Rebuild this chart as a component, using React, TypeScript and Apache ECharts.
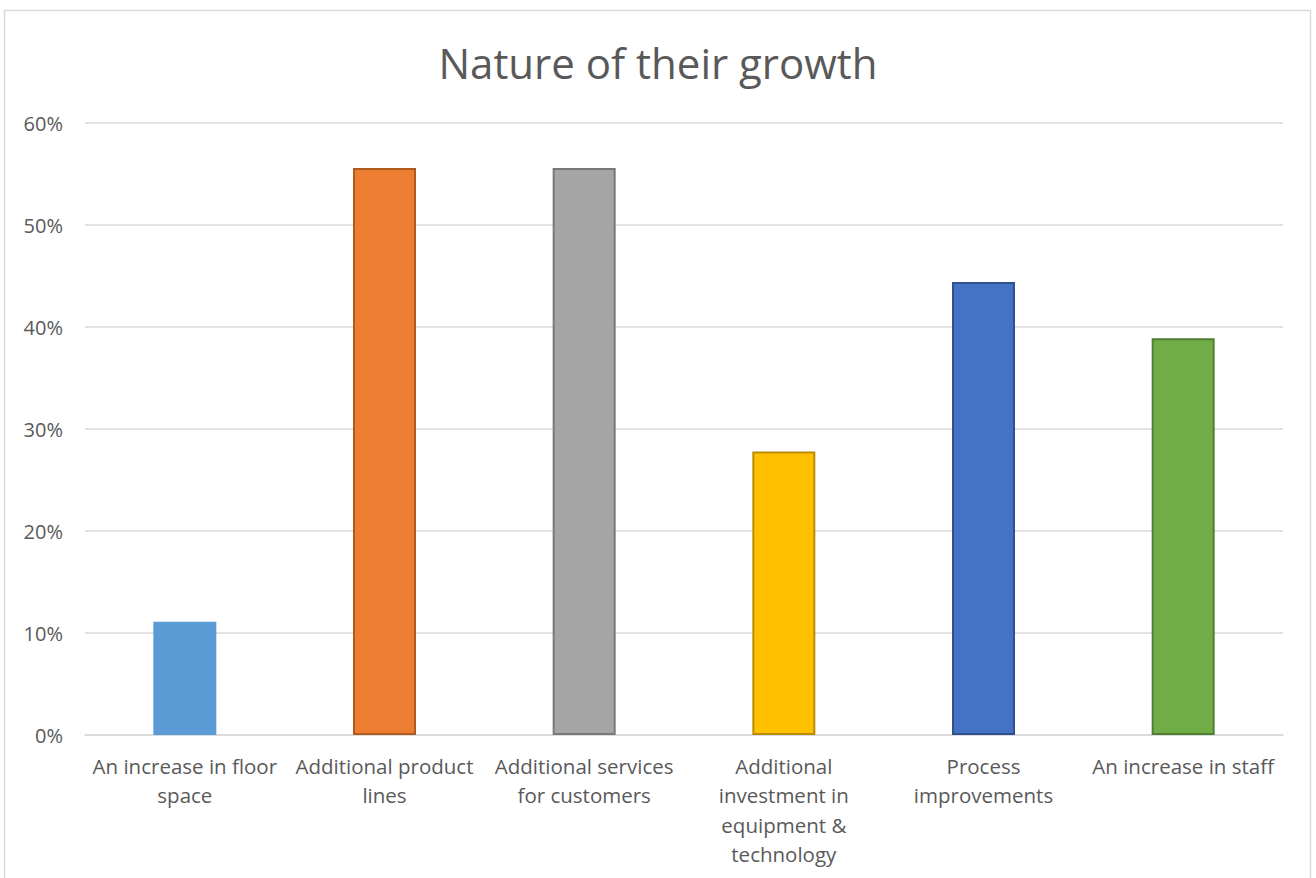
import React, { useEffect, useRef } from "react";
import * as echarts from "echarts";

const categories = [
  "An increase in floor\nspace",
  "Additional product\nlines",
  "Additional services\nfor customers",
  "Additional\ninvestment in\nequipment &\ntechnology",
  "Process\nimprovements",
  "An increase in staff",
];
const values = [11.1, 55.6, 55.6, 27.8, 44.4, 38.9];
const fillColors = ["#5B9BD5", "#ED7D31", "#A5A5A5", "#FFC000", "#4472C4", "#70AD47"];
const borderColors = ["#5B9BD5", "#AE5A21", "#787878", "#BC8C00", "#2F528F", "#507E32"];
const yTicks = [0, 10, 20, 30, 40, 50, 60];

const FONT = "'Open Sans', 'Noto Sans', sans-serif";

export default function App() {
  const ref = useRef<HTMLDivElement>(null);
  useEffect(() => {
    if (!ref.current) return;
    const chart = echarts.init(ref.current, null, { renderer: "svg" });
    chart.setOption({
      animation: false,
      backgroundColor: "#ffffff",
      title: {
        text: "Nature of their growth",
        left: "center",
        top: 36,
        textStyle: { fontFamily: FONT, fontSize: 42, fontWeight: "normal", color: "#595959" },
      },
      graphic: [
        {
          type: "rect",
          shape: { x: 4.5, y: 10.5, width: 1306, height: 900 },
          style: { fill: "none", stroke: "#D9D9D9", lineWidth: 1.5 },
          silent: true,
        },
      ],
      grid: { left: 85, right: 33, top: 123, bottom: 143 },
      xAxis: {
        type: "category",
        data: categories,
        axisLine: { lineStyle: { color: "#D9D9D9", width: 1.5 } },
        axisTick: { show: false },
        axisLabel: {
          interval: 0,
          margin: 16,
          color: "#595959",
          fontFamily: FONT,
          fontSize: 20.5,
          lineHeight: 29.5,
        },
      },
      yAxis: {
        type: "value",
        min: 0,
        max: 60,
        interval: 10,
        axisLine: { show: false },
        axisTick: { show: false },
        splitLine: { lineStyle: { color: "#D9D9D9", width: 1.5 } },
        axisLabel: {
          margin: 22,
          color: "#595959",
          fontFamily: FONT,
          fontSize: 20,
          formatter: (v: number) => (yTicks.includes(v) ? v + "%" : ""),
        },
      },
      series: [
        {
          type: "bar",
          barWidth: 63,
          data: values.map((v, i) => ({
            value: v,
            itemStyle: { color: fillColors[i], borderColor: borderColors[i], borderWidth: 2 },
          })),
        },
      ],
    });
    return () => chart.dispose();
  }, []);
  return (
    <div
      ref={ref}
      style={{ position: "absolute", left: 0, top: 0, width: 1316, height: 878 }}
    />
  );
}
